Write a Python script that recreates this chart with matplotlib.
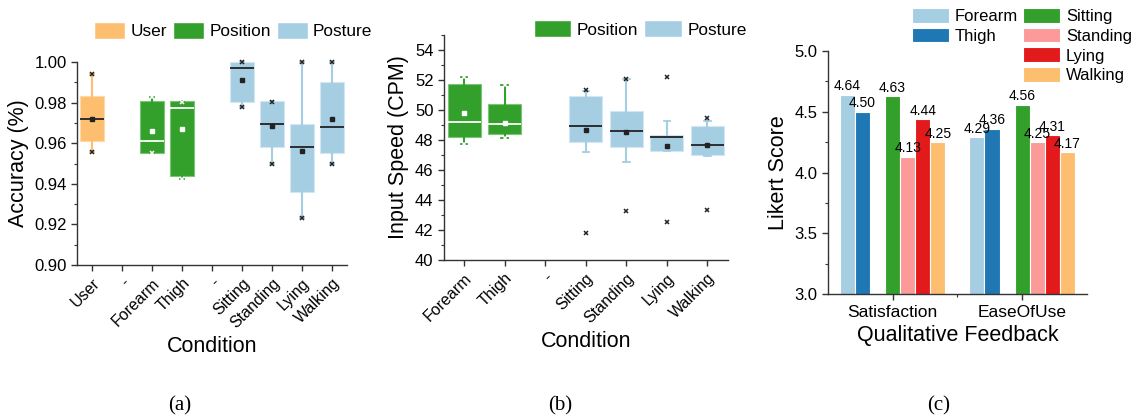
import matplotlib
matplotlib.use('Agg')
import matplotlib.pyplot as plt
from matplotlib.patches import Patch
from matplotlib.ticker import MultipleLocator

plt.rcParams['font.family'] = ['Liberation Sans', 'DejaVu Sans']

# Paired palette colours
c_user = '#fdbf6f'
c_pos = '#33a02c'
c_post = '#a6cee3'

# (a) accuracy per condition
acc_labels = ['User', '-', 'Forearm', 'Thigh', '-', 'Sitting', 'Standing', 'Lying', 'Walking']
acc_pos = [0, 2, 3, 5, 6, 7, 8]
acc_group = ['User', 'Position', 'Position', 'Posture', 'Posture', 'Posture', 'Posture']
acc_q1 = [0.961, 0.9552, 0.944, 0.9802, 0.958, 0.9361, 0.9552]
acc_q3 = [0.9833, 0.981, 0.981, 1.000, 0.981, 0.9695, 0.9903]
acc_med = [0.972, 0.9612, 0.9775, 0.9969, 0.9695, 0.9583, 0.968]
acc_mean = [0.972, 0.9662, 0.967, 0.9913, 0.9685, 0.9563, 0.9721]
acc_min = [0.9557, 0.9554, 0.9424, 0.9777, 0.950, 0.923, 0.950]
acc_max = [0.994, 0.9826, 0.9805, 1.000, 0.9805, 1.000, 1.000]

# (b) input speed per condition
spd_labels = ['Forearm', 'Thigh', '-', 'Sitting', 'Standing', 'Lying', 'Walking']
spd_pos = [0, 1, 3, 4, 5, 6]
spd_group = ['Position', 'Position', 'Posture', 'Posture', 'Posture', 'Posture']
spd_q1 = [48.2, 48.41, 47.85, 47.54, 47.29, 46.98]
spd_q3 = [51.77, 50.43, 50.97, 49.92, 48.31, 48.96]
spd_med = [49.2, 49.08, 48.96, 48.61, 48.18, 47.65]
spd_mean = [49.81, 49.14, 48.65, 48.56, 47.58, 47.65]
spd_lo = [47.71, 48.11, 47.2, 46.53, 47.29, 46.91]
spd_hi = [52.22, 51.64, 51.3, 52.1, 49.25, 49.3]
spd_marks = [[52.22, 47.71], [51.64, 48.11], [51.37, 41.78],
             [52.1, 43.3], [52.22, 42.55], [49.45, 43.35]]

# (c) likert scores
fb_cats = ['Satisfaction', 'EaseOfUse']
fb_series = ['Forearm', 'Thigh', 'Sitting', 'Standing', 'Lying', 'Walking']
fb_colors = ['#a6cee3', '#1f78b4', '#33a02c', '#fb9a99', '#e31a1c', '#fdbf6f']
forearm_fb = [4.64, 4.29]
thigh_fb = [4.50, 4.36]
sitting_fb = [4.63, 4.56]
standing_fb = [4.13, 4.25]
lying_fb = [4.44, 4.31]
walking_fb = [4.25, 4.17]

styles = {
    'User': (c_user, '#fdd9a8', '#222222'),
    'Position': (c_pos, '#7cc576', 'white'),
    'Posture': (c_post, '#d2e7f2', '#222222'),
}


def draw_boxes(ax, stats, pos, group):
    fill, edge, dark = styles[group]
    ax.bxp(stats, positions=pos, widths=0.82, capwidths=0.16, patch_artist=True,
           showmeans=True, showcaps=True, showfliers=True, manage_ticks=False,
           boxprops=dict(facecolor=fill, edgecolor=edge, linewidth=0.8),
           medianprops=dict(color=dark, linewidth=1.3),
           meanprops=dict(marker='s', markerfacecolor=dark, markeredgecolor=dark, markersize=3.5),
           whiskerprops=dict(color=fill, linewidth=1.5),
           capprops=dict(color=fill, linewidth=1.3),
           flierprops=dict(marker='x', markeredgecolor=dark, markersize=3.5, markeredgewidth=1.1))


def style_axes(ax):
    for s in ['top', 'right']:
        ax.spines[s].set_visible(False)
    for s in ['left', 'bottom']:
        ax.spines[s].set_linewidth(1.0)
        ax.spines[s].set_color('#333333')
    ax.tick_params(which='major', direction='out', length=4, width=1, colors='#333333',
                   labelcolor='black', labelsize=12)
    ax.tick_params(which='minor', direction='out', length=2, width=0.8, colors='#333333')


fig = plt.figure(figsize=(11.36, 4.18), dpi=100)

# ---- (a)
ax = fig.add_axes([0.0678, 0.366, 0.2377, 0.4856])
for g in ['User', 'Position', 'Posture']:
    idx = [i for i in range(len(acc_pos)) if acc_group[i] == g]
    stats = [dict(q1=acc_q1[i], q3=acc_q3[i], med=acc_med[i], mean=acc_mean[i],
                  whislo=acc_min[i], whishi=acc_max[i], fliers=[acc_min[i], acc_max[i]])
             for i in idx]
    draw_boxes(ax, stats, [acc_pos[i] for i in idx], g)
ax.set_xlim(-0.5, 8.5)
ax.set_ylim(0.90, 1.00)
ax.yaxis.set_major_locator(MultipleLocator(0.02))
ax.yaxis.set_minor_locator(MultipleLocator(0.01))
ax.yaxis.set_major_formatter(matplotlib.ticker.FormatStrFormatter('%.2f'))
ax.set_xticks(range(len(acc_labels)))
ax.set_xticklabels(acc_labels, rotation=45, ha='right', rotation_mode='anchor')
style_axes(ax)
ax.tick_params(axis='x', labelsize=11.5)
for l in ax.lines:
    l.set_clip_on(False)
ax.set_ylabel('Accuracy (%)', fontsize=15.5)
ax.set_xlabel('Condition', fontsize=15.5)
hs = [Patch(facecolor=styles[g][0], edgecolor='white', label=g) for g in ['User', 'Position', 'Posture']]
fig.legend(handles=hs, loc='center', bbox_to_anchor=(0.2055, 0.926), ncol=3, frameon=False,
           fontsize=12.4, handlelength=1.8, handleheight=1.1, handletextpad=0.3,
           columnspacing=0.35, borderpad=0, borderaxespad=0)

# ---- (b)
ax = fig.add_axes([0.3908, 0.378, 0.2497, 0.538])
for g in ['Position', 'Posture']:
    idx = [i for i in range(len(spd_pos)) if spd_group[i] == g]
    stats = [dict(q1=spd_q1[i], q3=spd_q3[i], med=spd_med[i], mean=spd_mean[i],
                  whislo=spd_lo[i], whishi=spd_hi[i], fliers=spd_marks[i])
             for i in idx]
    draw_boxes(ax, stats, [spd_pos[i] for i in idx], g)
ax.set_xlim(-0.5, 6.5)
ax.set_ylim(40, 55)
ax.yaxis.set_major_locator(MultipleLocator(2))
ax.yaxis.set_minor_locator(MultipleLocator(1))
ax.set_xticks(range(len(spd_labels)))
ax.set_xticklabels(spd_labels, rotation=45, ha='right', rotation_mode='anchor')
style_axes(ax)
ax.tick_params(axis='x', labelsize=11.5)
ax.set_ylabel('Input Speed (CPM)', fontsize=15.5)
ax.set_xlabel('Condition', fontsize=15.5)
hs = [Patch(facecolor=styles[g][0], edgecolor='white', label=g) for g in ['Position', 'Posture']]
fig.legend(handles=hs, loc='center', bbox_to_anchor=(0.5634, 0.9306), ncol=2, frameon=False,
           fontsize=12.4, handlelength=2.2, handleheight=1.1, handletextpad=0.3,
           columnspacing=0.35, borderpad=0, borderaxespad=0)

# ---- (c)
ax = fig.add_axes([0.7286, 0.296, 0.2283, 0.582])
w = 0.1166
offsets = [-3, -2, 0, 1, 2, 3]
series_vals = [forearm_fb, thigh_fb, sitting_fb, standing_fb, lying_fb, walking_fb]
x = list(range(len(fb_cats)))
for name, vals, col, off in zip(fb_series, series_vals, fb_colors, offsets):
    bars = ax.bar([xi + off * w for xi in x], vals, width=w, color=col,
                  edgecolor='white', linewidth=0.8, label=name)
    ax.bar_label(bars, fmt='%.2f', fontsize=10, padding=1)
ax.set_xlim(-0.5, 1.5)
ax.set_ylim(3.0, 5.0)
ax.yaxis.set_major_locator(MultipleLocator(0.5))
ax.yaxis.set_minor_locator(MultipleLocator(0.25))
ax.yaxis.set_major_formatter(matplotlib.ticker.FormatStrFormatter('%.1f'))
ax.set_xticks(x)
ax.set_xticklabels(fb_cats)
ax.set_xticks([0.5], minor=True)
style_axes(ax)
ax.tick_params(axis='x', labelsize=12.5)
ax.set_ylabel('Likert Score', fontsize=15.5)
ax.set_xlabel('Qualitative Feedback', fontsize=15.5)
h, lab = ax.get_legend_handles_labels()
blank = Patch(facecolor='none', edgecolor='none', label=' ')
hs = h[:2] + [blank, blank] + h[2:]
ls = lab[:2] + [' ', ' '] + lab[2:]
fig.legend(hs, ls, loc='center', bbox_to_anchor=(0.8996, 0.891), ncol=2, frameon=False,
           fontsize=12, handlelength=2.2, handleheight=1.0, handletextpad=0.35,
           columnspacing=0.35, labelspacing=0.22, borderpad=0, borderaxespad=0)

# captions
for cx, t in [(180, '(a)'), (560, '(b)'), (939, '(c)')]:
    fig.text(cx / 1136, 1 - 406 / 418, t, ha='center', va='center',
             family=['Liberation Serif', 'DejaVu Serif'], fontsize=15)

fig.savefig('out.png', dpi=100)
